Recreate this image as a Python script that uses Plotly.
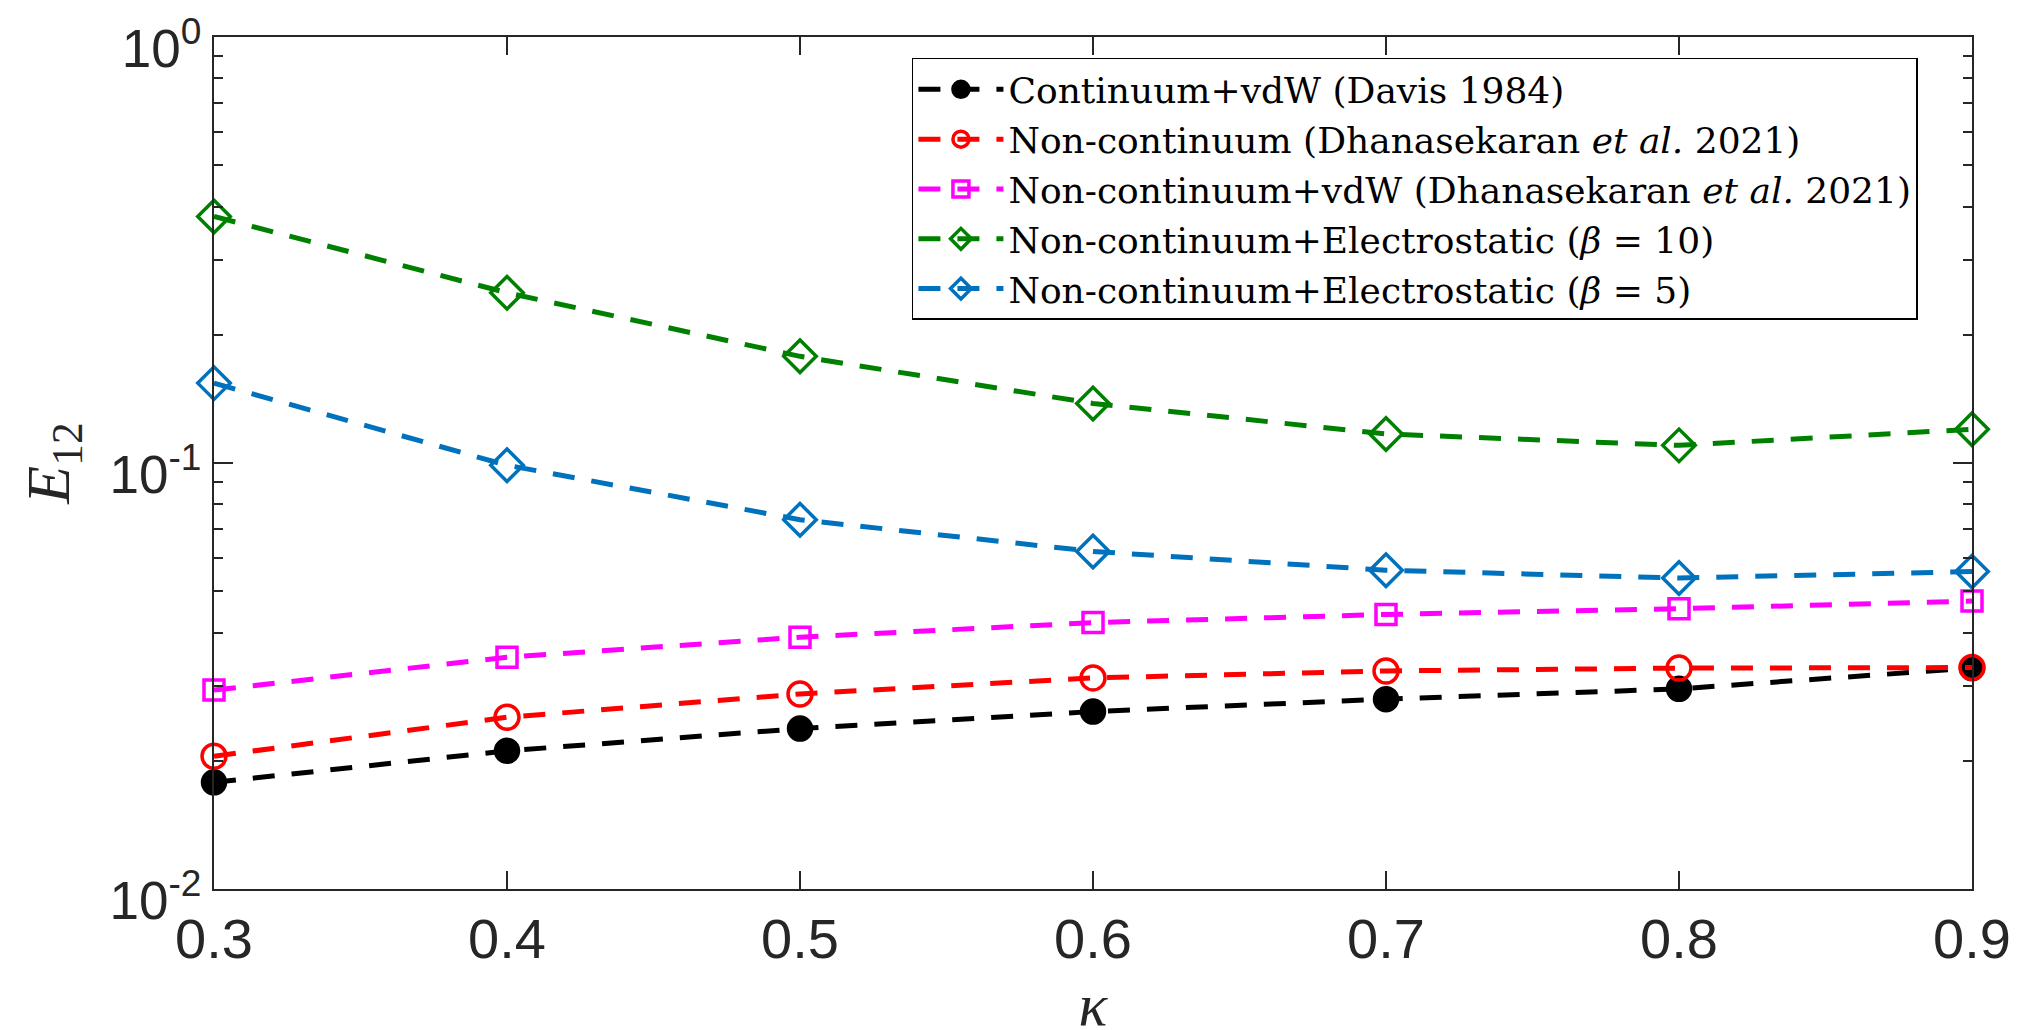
import plotly.graph_objects as go

kappa = [0.3, 0.4, 0.5, 0.6, 0.7, 0.8, 0.9]

continuum_vdw = [0.0178, 0.0211, 0.0238, 0.0261, 0.0279, 0.0295, 0.0330]
noncontinuum = [0.0205, 0.0253, 0.0287, 0.0313, 0.0325, 0.0330, 0.0331]
noncontinuum_vdw = [0.0293, 0.0350, 0.0390, 0.0422, 0.0441, 0.0455, 0.0474]
electro_beta10 = [0.379, 0.251, 0.178, 0.138, 0.117, 0.110, 0.120]
electro_beta5 = [0.154, 0.0988, 0.0736, 0.0620, 0.0560, 0.0537, 0.0556]

ytick_vals = [0.01, 0.1, 1]
ytick_text = ["10<sup>-2</sup>", "10<sup>-1</sup>", "10<sup>0</sup>"]
xtick_vals = [0.3, 0.4, 0.5, 0.6, 0.7, 0.8, 0.9]
xtick_text = ["0.3", "0.4", "0.5", "0.6", "0.7", "0.8", "0.9"]

series = [
    ("Continuum+vdW (Davis 1984)", continuum_vdw, "#000000", "circle", 23),
    ("Non-continuum (Dhanasekaran <i>et al.</i> 2021)", noncontinuum, "#FF0000", "circle-open", 24),
    ("Non-continuum+vdW (Dhanasekaran <i>et al.</i> 2021)", noncontinuum_vdw, "#FF00FF", "square-open", 20),
    ("Non-continuum+Electrostatic (<i>β</i> = 10)", electro_beta10, "#008000", "diamond-open", 25),
    ("Non-continuum+Electrostatic (<i>β</i> = 5)", electro_beta5, "#0072BD", "diamond-open", 25),
]

fig = go.Figure()
for name, vals, color, sym, size in series:
    fig.add_trace(go.Scatter(
        x=kappa, y=vals, name=name, mode="lines+markers",
        line=dict(color=color, width=5, dash="22px,17px"),
        marker=dict(symbol=sym, size=size, color=color,
                    line=dict(color=color, width=3.5)),
        cliponaxis=False,
    ))

axis_color = "#262626"
minor_vals = [m * 10 ** e for e in (-2, -1) for m in range(2, 10)]

# the page body adds an 8px offset, margins compensate for it
fig.update_layout(
    width=2021, height=1030, autosize=False,
    paper_bgcolor="white", plot_bgcolor="white",
    margin=dict(l=206, r=57, t=29, b=149),
    showlegend=True,
    legend=dict(
        x=0.397, y=0.9754, xanchor="left", yanchor="top",
        bgcolor="white", bordercolor="#000000", borderwidth=1.5,
        font=dict(family="DejaVu Serif", size=36, color="#000000"),
        itemwidth=85, tracegroupgap=0,
    ),
    xaxis=dict(
        range=[0.3, 0.9], tickvals=xtick_vals, ticktext=xtick_text,
        ticks="inside", ticklen=18, tickwidth=1.5, tickcolor=axis_color,
        showline=True, linecolor=axis_color, linewidth=2, mirror="ticks",
        showgrid=False, zeroline=False, automargin=False,
        ticklabeloverflow="allow",
        tickfont=dict(family="Liberation Sans", size=56, color=axis_color),
        title=dict(text="<i>κ</i>", standoff=36,
                   font=dict(family="Liberation Serif", size=60, color=axis_color)),
    ),
    yaxis=dict(
        type="log", range=[-2, 0],
        tickvals=ytick_vals, ticktext=ytick_text,
        ticks="inside", ticklen=19, tickwidth=1.5, tickcolor=axis_color,
        minor=dict(tickvals=minor_vals, ticks="inside", ticklen=9, tickwidth=1.5,
                   tickcolor=axis_color, showgrid=False),
        showline=True, linecolor=axis_color, linewidth=2, mirror="ticks",
        showgrid=False, zeroline=False, automargin=False,
        ticklabeloverflow="allow", ticklabelshift=11,
        tickfont=dict(family="Liberation Sans", size=53, color=axis_color),
        title=dict(text="<i>E</i><sub>12</sub>", standoff=20,
                   font=dict(family="Liberation Serif", size=62, color=axis_color)),
    ),
)

fig.write_html("out.html")
